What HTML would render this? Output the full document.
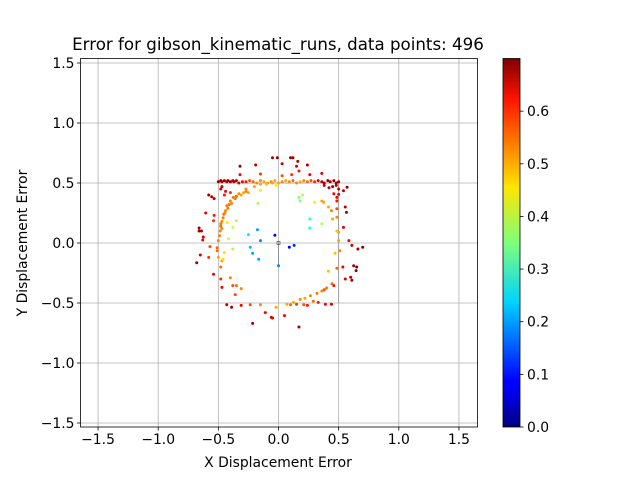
<!DOCTYPE html>
<html><head><meta charset="utf-8"><style>
body{margin:0;background:#fff}
svg text{font-family:"DejaVu Sans","Liberation Sans",sans-serif}
</style></head><body>
<svg id="chart" width="640" height="480" xmlns="http://www.w3.org/2000/svg">
<defs><linearGradient id="jet" x1="0" y1="1" x2="0" y2="0">
<stop offset="0" stop-color="#00007f"/><stop offset="0.11" stop-color="#0000ff"/><stop offset="0.125" stop-color="#0000ff"/>
<stop offset="0.34" stop-color="#00d4ff"/><stop offset="0.5" stop-color="#7dff7a"/><stop offset="0.65" stop-color="#ffe600"/>
<stop offset="0.89" stop-color="#ff1300"/><stop offset="1" stop-color="#7f0000"/></linearGradient></defs>
<g id="grid"></g>
<g id="truth"></g>
<g id="pts"></g>
<rect x="80.5" y="58.5" width="397" height="368.5" fill="none" stroke="#000" stroke-width="0.8"/>
<g id="ticks"></g>
<text x="278" y="50" font-size="16.67" text-anchor="middle">Error for gibson_kinematic_runs, data points: 496</text>
<text x="278" y="467" font-size="13.9" text-anchor="middle">X Displacement Error</text>
<text x="27" y="243" font-size="13.9" text-anchor="middle" transform="rotate(-90 27 243)">Y Displacement Error</text>
<rect x="503" y="58.5" width="17" height="368.5" fill="url(#jet)" stroke="#000" stroke-width="0.8"/>
<g id="cbt"></g>
</svg>
<script>
const xTicks=[-1.5,-1.0,-0.5,0.0,0.5,1.0,1.5];
const yTicks=[-1.5,-1.0,-0.5,0.0,0.5,1.0,1.5];
const cbTicks=[0.0,0.1,0.2,0.3,0.4,0.5,0.6];
const vMax=0.70;
const ptX=[-0.32,-0.19,-0.05,-0.01,0.03,0.10,0.12,0.16,0.15,0.24,-0.32,-0.15,0.03,0.11,0.17,0.26,0.36,
-0.5,-0.48,-0.47,-0.45,-0.43,-0.42,-0.40,-0.38,-0.37,-0.35,-0.33,-0.30,-0.27,-0.24,-0.21,-0.18,-0.15,-0.12,-0.09,-0.06,-0.03,0.0,0.03,0.06,0.09,0.12,0.15,0.18,0.21,0.24,0.27,0.30,0.33,0.36,0.38,0.41,0.43,0.46,0.48,0.5,
-0.48,-0.47,-0.44,-0.45,-0.40,0.38,0.42,0.45,0.48,0.50,-0.27,-0.2,-0.15,-0.1,-0.05,
-0.47,-0.46,-0.44,-0.43,-0.40,-0.375,-0.33,-0.29,-0.25,-0.48,-0.47,-0.455,-0.445,-0.42,-0.41,-0.39,-0.36,-0.35,-0.31,-0.27,-0.49,-0.48,
-0.58,-0.555,-0.535,-0.605,-0.66,-0.64,-0.66,-0.625,-0.63,-0.68,-0.65,-0.54,-0.535,-0.57,-0.58,-0.54,-0.48,-0.47,-0.40,-0.38,-0.35,-0.31,-0.36,-0.43,-0.39,-0.31,-0.235,-0.15,-0.11,-0.06,-0.05,-0.215,-0.02,0.05,0.17,
-0.485,-0.5,-0.51,-0.5,-0.47,-0.48,-0.51,-0.45,
0.07,0.125,0.18,0.22,0.265,0.32,0.36,0.40,0.445,0.46,0.33,0.39,0.44,0.10,0.15,0.21,0.24,0.29,0.38,
0.485,0.485,0.485,0.5,0.5,0.51,0.47,0.5,0.415,0.44,0.45,0.485,0.415,0.485,0.36,0.375,
0.555,0.565,0.54,0.585,0.61,0.70,0.66,0.535,0.625,0.65,0.645,0.60,0.61,0.555,0.57,0.54,0.46,0.485,
-0.15,-0.02,-0.17,0.17,0.20,0.18,0.30,0.26,0.36,0.26,-0.35,-0.38,-0.425,-0.415,-0.38,-0.25,-0.175,-0.15,-0.235,-0.215,-0.165,-0.03,0.09,0.13,0.0,-0.46];
const ptY=[0.64,0.65,0.71,0.71,0.66,0.71,0.71,0.68,0.64,0.65,0.57,0.575,0.56,0.57,0.60,0.57,0.58,
0.51,0.52,0.51,0.52,0.51,0.52,0.51,0.52,0.51,0.52,0.50,0.51,0.51,0.52,0.51,0.50,0.52,0.51,0.50,0.51,0.52,0.50,0.51,0.52,0.51,0.52,0.50,0.51,0.52,0.51,0.52,0.51,0.52,0.51,0.50,0.52,0.51,0.52,0.50,0.51,
0.45,0.47,0.43,0.40,0.42,0.48,0.46,0.47,0.48,0.45,0.45,0.47,0.49,0.49,0.50,
0.12,0.21,0.27,0.31,0.35,0.38,0.41,0.42,0.42,0.16,0.18,0.24,0.25,0.29,0.32,0.33,0.37,0.39,0.40,0.43,0.06,0.14,
0.40,0.385,0.37,0.25,0.125,0.10,0.10,0.05,0.025,-0.165,-0.10,0.185,0.23,-0.03,-0.12,-0.26,-0.30,-0.37,-0.29,-0.355,-0.355,-0.38,-0.43,-0.515,-0.535,-0.52,-0.515,-0.515,-0.58,-0.62,-0.625,-0.67,-0.535,-0.605,-0.70,
0.10,0.02,-0.04,-0.12,-0.15,-0.20,-0.065,-0.08,
-0.51,-0.495,-0.47,-0.46,-0.44,-0.42,-0.40,-0.375,-0.34,-0.355,-0.495,-0.51,-0.51,-0.515,-0.51,-0.515,-0.52,-0.485,-0.39,
0.35,0.285,0.215,0.09,0.02,-0.065,-0.085,0.405,0.30,0.27,0.20,0.10,-0.235,-0.21,0.35,0.34,
0.30,0.255,0.13,0.02,-0.02,-0.035,-0.05,-0.20,-0.19,-0.20,-0.23,-0.285,-0.31,-0.30,0.465,0.435,0.41,0.38,
0.44,0.48,0.33,0.38,0.40,0.35,0.34,0.20,0.16,0.125,0.185,0.13,0.17,0.035,-0.05,0.07,0.11,0.02,-0.035,-0.085,-0.135,0.065,-0.035,-0.02,-0.19,-0.135];
const ptErr=[0.68,0.66,0.68,0.68,0.65,0.68,0.68,0.66,0.64,0.68,0.62,0.58,0.56,0.58,0.60,0.62,0.64,
0.68,0.68,0.67,0.68,0.66,0.68,0.67,0.66,0.68,0.66,0.64,0.62,0.60,0.56,0.54,0.52,0.52,0.5,0.5,0.52,0.5,0.5,0.52,0.5,0.52,0.54,0.52,0.5,0.52,0.54,0.56,0.58,0.62,0.66,0.68,0.68,0.67,0.68,0.68,0.67,
0.64,0.66,0.62,0.60,0.58,0.66,0.66,0.68,0.68,0.66,0.52,0.5,0.5,0.48,0.5,
0.52,0.53,0.52,0.53,0.52,0.53,0.52,0.5,0.5,0.53,0.52,0.54,0.52,0.53,0.54,0.52,0.53,0.54,0.5,0.52,0.52,0.54,
0.68,0.66,0.66,0.62,0.68,0.68,0.68,0.64,0.62,0.68,0.64,0.58,0.6,0.56,0.58,0.62,0.58,0.62,0.52,0.56,0.54,0.52,0.56,0.66,0.68,0.62,0.56,0.52,0.62,0.64,0.64,0.68,0.5,0.62,0.68,
0.52,0.52,0.54,0.5,0.5,0.54,0.54,0.46,
0.5,0.5,0.52,0.5,0.52,0.53,0.52,0.53,0.54,0.6,0.6,0.62,0.64,0.54,0.58,0.56,0.6,0.54,0.56,
0.6,0.56,0.52,0.5,0.5,0.52,0.48,0.62,0.5,0.52,0.5,0.48,0.48,0.54,0.5,0.5,
0.66,0.68,0.62,0.62,0.66,0.70,0.68,0.62,0.68,0.70,0.70,0.66,0.68,0.64,0.68,0.66,0.62,0.62,
0.45,0.45,0.38,0.35,0.38,0.35,0.45,0.30,0.38,0.28,0.38,0.40,0.45,0.40,0.38,0.25,0.20,0.18,0.22,0.20,0.20,0.08,0.08,0.12,0.18,0.46];
const NS="http://www.w3.org/2000/svg";
const X0=80.5,X1=477.5,Y0=58.5,Y1=427;
const sx=v=>278.5+v*120.3, sy=v=>243+v*120;
const cy=v=>427-v/vMax*368.5;
function mk(t,a,p){const e=document.createElementNS(NS,t);for(const k in a)e.setAttribute(k,a[k]);p.appendChild(e);return e;}
function jet(v){const t=Math.max(0,Math.min(1,v/vMax));
const r=Math.max(0,Math.min(1,1.5-Math.abs(4*t-3))),g=Math.max(0,Math.min(1,1.5-Math.abs(4*t-2))),b=Math.max(0,Math.min(1,1.5-Math.abs(4*t-1)));
return `rgb(${Math.round(r*255)},${Math.round(g*255)},${Math.round(b*255)})`;}
const grid=document.getElementById('grid'),ticks=document.getElementById('ticks');
xTicks.forEach(v=>{const x=sx(v);
const l=mk('line',{x1:x,x2:x,y1:Y0,y2:Y1,stroke:'#b0b0b0','stroke-width':0.8},grid);

mk('line',{x1:x,x2:x,y1:Y1,y2:Y1+3.5,stroke:'#000','stroke-width':0.8},ticks);
const t=mk('text',{x:x,y:Y1+17,'font-size':13.9,'text-anchor':'middle'},ticks);t.textContent=v.toFixed(1).replace('-','−');
});
yTicks.forEach(v=>{const y=sy(-v);
const l=mk('line',{x1:X0,x2:X1,y1:y,y2:y,stroke:'#b0b0b0','stroke-width':0.8},grid);

mk('line',{x1:X0-3.5,x2:X0,y1:y,y2:y,stroke:'#000','stroke-width':0.8},ticks);
const t=mk('text',{x:X0-6,y:y+5,'font-size':13.9,'text-anchor':'end'},ticks);t.textContent=v.toFixed(1).replace('-','−');
});
const tr=document.getElementById('truth');
const p1=mk('polyline',{points:`${sx(-0.5)},${sy(-0.5)} ${sx(0.5)},${sy(-0.5)} ${sx(0.5)},${sy(0.5)}`,fill:'none',stroke:'#888','stroke-width':0.8,opacity:0.7},tr);

const p2=mk('polyline',{points:`${sx(0)},${sy(0)} ${sx(0)},${sy(0.2)}`,fill:'none',stroke:'#888','stroke-width':0.8},tr);

const st=mk('rect',{x:sx(0)-1.5,y:sy(0)-1.5,width:3,height:3,fill:'none',stroke:'#555','stroke-width':0.7},tr);

const pts=document.getElementById('pts');
ptX.forEach((x,i)=>{const c=mk('circle',{cx:sx(x),cy:sy(-ptY[i]),r:1.5,fill:jet(ptErr[i])},pts);
});
const cb=document.getElementById('cbt');
cbTicks.forEach(v=>{const y=cy(v);
mk('line',{x1:520,x2:523.5,y1:y,y2:y,stroke:'#000','stroke-width':0.8},cb);
const t=mk('text',{x:527,y:y+5,'font-size':13.9},cb);t.textContent=v.toFixed(1);
});
</script>
</body></html>
